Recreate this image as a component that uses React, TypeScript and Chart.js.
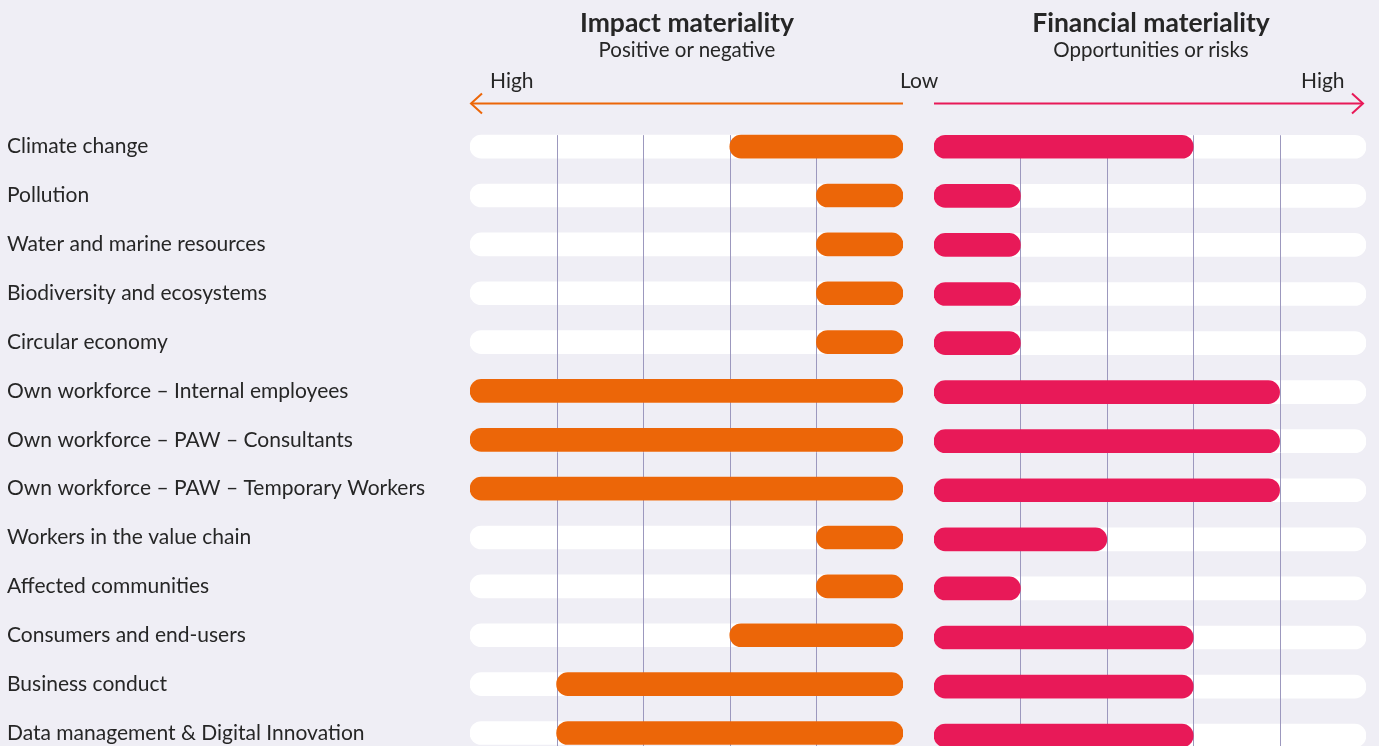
import React, { useEffect, useRef } from 'react';
import { Chart, registerables } from 'chart.js';

Chart.register(...registerables);

const categories = [
  'Climate change',
  'Pollution',
  'Water and marine resources',
  'Biodiversity and ecosystems',
  'Circular economy',
  'Own workforce – Internal employees',
  'Own workforce – PAW – Consultants',
  'Own workforce – PAW – Temporary Workers',
  'Workers in the value chain',
  'Affected communities',
  'Consumers and end-users',
  'Business conduct',
  'Data management & Digital Innovation',
];

const impactValues = [2, 1, 1, 1, 1, 5, 5, 5, 1, 1, 2, 4, 4];
const financialValues = [3, 1, 1, 1, 1, 4, 4, 4, 2, 1, 3, 3, 3];
const trackValues = [5, 5, 5, 5, 5, 5, 5, 5, 5, 5, 5, 5, 5];
const scaleMin = 0;
const scaleMax = 5;
const gridTicks = [1, 2, 3, 4];

const ORANGE = '#EC6608';
const PINK = '#E81958';
const BG = '#EFEEF5';
const GRID = '#9C98BE';
const TEXT = '#262626';
const FONT = 'Lato, "Noto Sans", sans-serif';

const BAR = 23;

const gridPlugin = {
  id: 'trackGrid',
  afterDatasetDraw(chart: any, args: any) {
    if (args.index !== 1) return;
    const { ctx, scales } = chart;
    const xs = scales.x;
    const ys = scales.y;
    const top = ys.getPixelForValue(0) - BAR / 2;
    const bottom = chart.height;
    ctx.save();
    ctx.strokeStyle = GRID;
    ctx.lineWidth = 1;
    gridTicks.forEach((v) => {
      const px = Math.round(xs.getPixelForValue(v)) + 0.5;
      ctx.beginPath();
      ctx.moveTo(px, top);
      ctx.lineTo(px, bottom);
      ctx.stroke();
    });
    ctx.restore();
  },
};

function makeConfig(values: number[], color: string, left: boolean): any {
  const yScale: any = {
    display: left,
    grid: { display: false },
    border: { display: false },
    ticks: {
      crossAlign: 'far',
      color: TEXT,
      padding: 0,
      font: { family: FONT, size: 21 },
    },
  };
  if (left) {
    yScale.afterFit = (s: any) => {
      s.width = 463;
    };
  }
  return {
    type: 'bar',
    data: {
      labels: categories,
      datasets: [
        {
          data: values,
          backgroundColor: color,
          barThickness: BAR,
          borderRadius: BAR / 2,
          borderSkipped: false,
          grouped: false,
        },
        {
          data: trackValues,
          backgroundColor: '#FFFFFF',
          barThickness: BAR,
          borderRadius: BAR / 2,
          borderSkipped: false,
          grouped: false,
        },
      ],
    },
    options: {
      indexAxis: 'y',
      responsive: false,
      animation: false,
      layout: {
        padding: left
          ? { left: 7, right: 7, top: 122.2, bottom: 9.8 }
          : { left: 4, right: 4, top: 122.2, bottom: 9.8 },
      },
      plugins: {
        legend: { display: false },
        tooltip: { enabled: false },
      },
      scales: {
        x: {
          type: 'linear',
          min: scaleMin,
          max: scaleMax,
          reverse: left,
          display: false,
        },
        y: yScale,
      },
    },
    plugins: [gridPlugin],
  };
}

export default function App() {
  const leftRef = useRef<HTMLCanvasElement>(null);
  const rightRef = useRef<HTMLCanvasElement>(null);

  useEffect(() => {
    const a = new Chart(leftRef.current as HTMLCanvasElement, makeConfig(impactValues, ORANGE, true));
    const b = new Chart(rightRef.current as HTMLCanvasElement, makeConfig(financialValues, PINK, false));
    return () => {
      a.destroy();
      b.destroy();
    };
  }, []);

  const titleStyle: React.CSSProperties = {
    position: 'absolute',
    width: 400,
    textAlign: 'center',
    fontFamily: FONT,
    fontWeight: 700,
    fontSize: 26.5,
    lineHeight: '26px',
    color: TEXT,
    top: 9,
  };
  const subStyle: React.CSSProperties = {
    position: 'absolute',
    width: 400,
    textAlign: 'center',
    fontFamily: FONT,
    fontSize: 20.5,
    lineHeight: '22px',
    color: TEXT,
    top: 38,
  };
  const endStyle: React.CSSProperties = {
    position: 'absolute',
    fontFamily: FONT,
    fontSize: 21,
    lineHeight: '22px',
    color: TEXT,
    top: 69,
  };

  return (
    <div
      style={{
        position: 'relative',
        width: 1379,
        height: 746,
        overflow: 'hidden',
        background: BG,
      }}
    >
      <style>{`body{margin:0;background:${BG};}`}</style>
      <canvas
        ref={leftRef}
        width={910}
        height={770}
        style={{ position: 'absolute', left: 0, top: 0 }}
      />
      <canvas
        ref={rightRef}
        width={440}
        height={770}
        style={{ position: 'absolute', left: 930, top: 0 }}
      />
      <div style={{ ...titleStyle, left: 487 }}>Impact materiality</div>
      <div style={{ ...subStyle, left: 487 }}>Positive or negative</div>
      <div style={{ ...titleStyle, left: 951 }}>Financial materiality</div>
      <div style={{ ...subStyle, left: 951 }}>Opportunities or risks</div>
      <div style={{ ...endStyle, left: 490 }}>High</div>
      <div style={{ ...endStyle, left: 900 }}>Low</div>
      <div style={{ ...endStyle, left: 1301 }}>High</div>
      <svg
        width={1379}
        height={130}
        style={{ position: 'absolute', left: 0, top: 0 }}
      >
        <line x1={471} y1={103.5} x2={903} y2={103.5} stroke={ORANGE} strokeWidth={2} />
        <polyline
          points="482,93.5 471,103.5 482,113.5"
          fill="none"
          stroke={ORANGE}
          strokeWidth={2}
        />
        <line x1={934} y1={103.5} x2={1363} y2={103.5} stroke={PINK} strokeWidth={2} />
        <polyline
          points="1352,93.5 1363,103.5 1352,113.5"
          fill="none"
          stroke={PINK}
          strokeWidth={2}
        />
      </svg>
    </div>
  );
}
